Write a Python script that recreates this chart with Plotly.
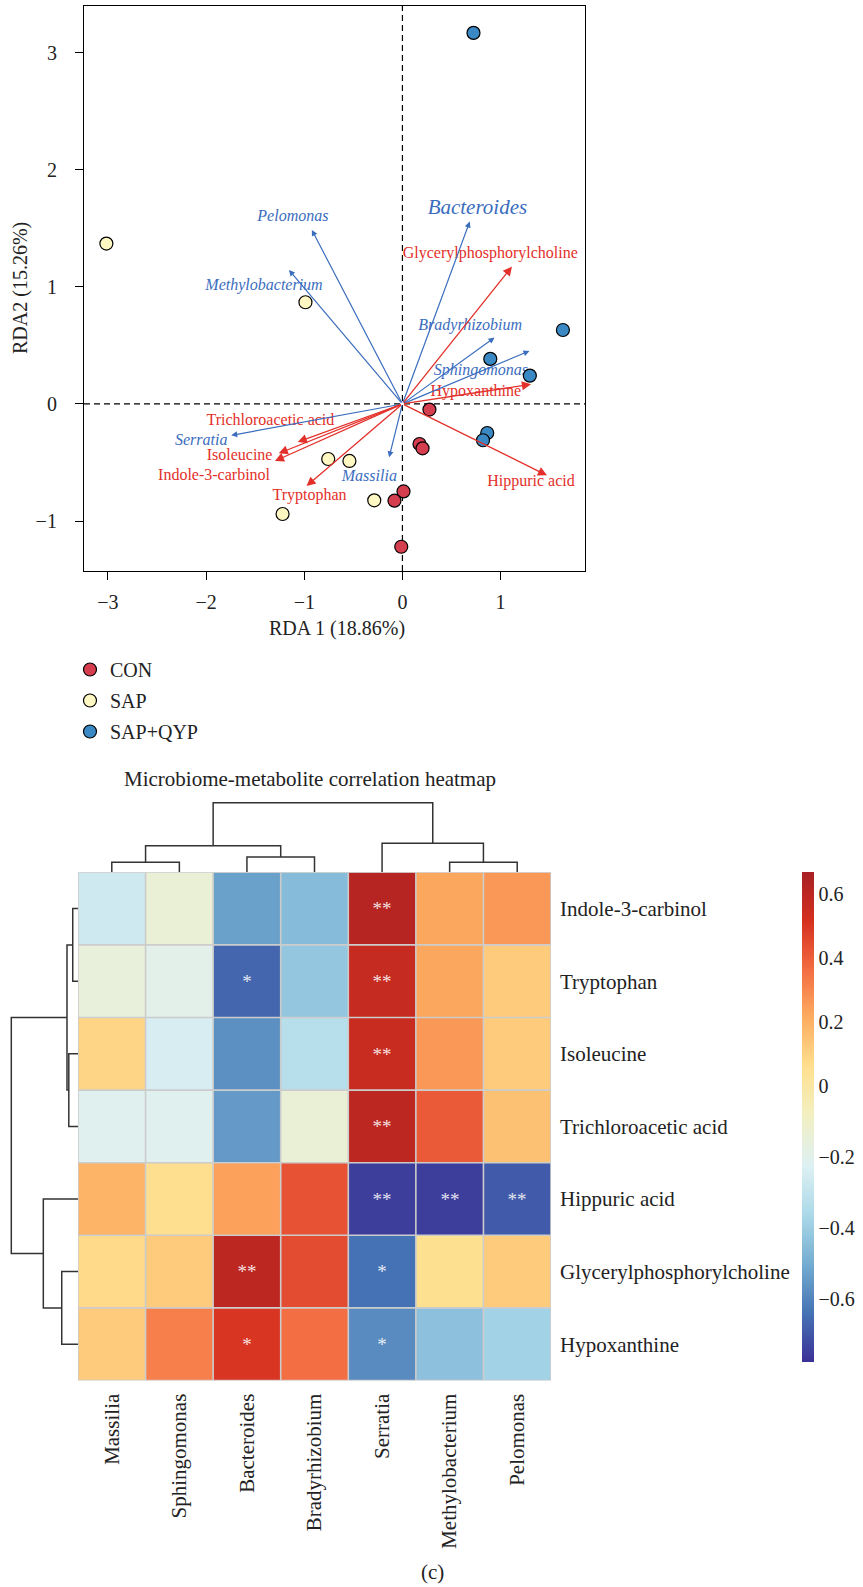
import plotly.graph_objects as go

# ---------------- data: RDA biplot ----------------
CON_x = [0.275, 0.174, 0.205, 0.011, -0.081, -0.012]
CON_y = [-0.048, -0.342, -0.379, -0.747, -0.826, -1.22]
SAP_x = [-3.016, -0.988, -0.756, -0.54, -0.287, -1.221]
SAP_y = [1.37, 0.869, -0.47, -0.487, -0.823, -0.94]
QYP_x = [0.724, 1.635, 0.895, 1.298, 0.864, 0.821]
QYP_y = [3.17, 0.632, 0.385, 0.242, -0.248, -0.31]

species = ["Pelomonas", "Methylobacterium", "Bacteroides", "Bradyrhizobium",
           "Sphingomonas", "Serratia", "Massilia"]
sp_x = [-0.923, -1.156, 0.686, 0.938, 1.294, -1.744, -0.136]
sp_y = [1.487, 1.145, 1.558, 0.567, 0.453, -0.268, -0.456]
sp_lab_x = [-1.116, -1.41, 0.764, 0.69, 0.80, -2.05, -0.337]
sp_lab_y = [1.598, 1.009, 1.664, 0.663, 0.283, -0.317, -0.62]

metabolites = ["Glycerylphosphorylcholine", "Hypoxanthine", "Hippuric acid",
               "Trichloroacetic acid", "Isoleucine", "Indole-3-carbinol", "Tryptophan"]
mb_x = [1.116, 1.31, 1.473, -1.066, -1.26, -1.299, -0.977]
mb_y = [1.174, 0.168, -0.61, -0.325, -0.422, -0.487, -0.701]
mb_lab_x = [0.895, 0.748, 1.31, -1.345, -1.659, -1.919, -0.946]
mb_lab_y = [1.282, 0.099, -0.669, -0.142, -0.442, -0.618, -0.782]

x_ticks = [-3, -2, -1, 0, 1]
y_ticks = [-1, 0, 1, 2, 3]

# ---------------- data: heatmap ----------------
hm_cols = ["Massilia", "Sphingomonas", "Bacteroides", "Bradyrhizobium",
           "Serratia", "Methylobacterium", "Pelomonas"]
hm_rows = ["Indole-3-carbinol", "Tryptophan", "Isoleucine", "Trichloroacetic acid",
           "Hippuric acid", "Glycerylphosphorylcholine", "Hypoxanthine"]
hm_vals = [
    [-0.266, -0.14, -0.53, -0.455, 0.62, 0.225, 0.26],
    [-0.155, -0.195, -0.665, -0.42, 0.565, 0.225, 0.12],
    [0.09, -0.24, -0.57, -0.33, 0.56, 0.26, 0.12],
    [-0.21, -0.21, -0.545, -0.14, 0.60, 0.41, 0.15],
    [0.19, 0.06, 0.24, 0.43, -0.75, -0.75, -0.69],
    [0.075, 0.12, 0.60, 0.445, -0.64, 0.055, 0.12],
    [0.12, 0.32, 0.50, 0.36, -0.58, -0.44, -0.385],
]
hm_sig = [
    ["", "", "", "", "**", "", ""],
    ["", "", "*", "", "**", "", ""],
    ["", "", "", "", "**", "", ""],
    ["", "", "", "", "**", "", ""],
    ["", "", "", "", "**", "**", "**"],
    ["", "", "**", "", "*", "", ""],
    ["", "", "*", "", "*", "", ""],
]
cb_min, cb_max = -0.776, 0.668
cb_ticks = [0.6, 0.4, 0.2, 0, -0.2, -0.4, -0.6]
cb_ticktext = ["0.6", "0.4", "0.2", "0", "\u22120.2", "\u22120.4", "\u22120.6"]

# dendrograms: (child_a, child_b, height); ids >= n are earlier merges
row_merges = [(0, 1, 0.079), (2, 3, 0.138), (7, 8, 0.165), (5, 6, 0.244),
              (4, 10, 0.52), (9, 11, 1.0)]
col_merges = [(0, 1, 0.144), (2, 3, 0.22), (5, 6, 0.144), (7, 8, 0.382),
              (4, 9, 0.417), (10, 11, 1.0)]

# ---------------- styling ----------------
W, H = 863, 1587
SERIF = "Liberation Serif, Times New Roman, serif"
BLUE = "#3B6DBE"
RED = "#E3302A"
C_CON, C_SAP, C_QYP = "#D53E4F", "#FFF8C2", "#3A88C4"
PALETTE = ["#3B3196", "#4573B4", "#74ADD1", "#ABD9E9", "#DDF0F3", "#F2F0C4",
           "#FEE090", "#FDAE61", "#F46D43", "#D5301F", "#A82024"]


def fx(p):
    return p / W


def fy(p):
    return 1 - p / H


zero_frac = 0.563


def tr(v):
    if v < 0:
        return zero_frac + v / (-cb_min) * zero_frac
    return zero_frac + v / cb_max * (1 - zero_frac)


fig = go.Figure()

# labels (drawn below points)
fig.add_trace(go.Scatter(
    x=sp_lab_x, y=sp_lab_y, text=species, mode="text", showlegend=False,
    textposition="middle center", hoverinfo="skip",
    textfont=dict(family=SERIF, color=BLUE,
                  size=[21 if s == "Bacteroides" else 16 for s in species],
                  style="italic"),
    xaxis="x", yaxis="y"))
fig.add_trace(go.Scatter(
    x=mb_lab_x, y=mb_lab_y, text=metabolites, mode="text", showlegend=False,
    textposition="middle center", hoverinfo="skip",
    textfont=dict(family=SERIF, color=RED, size=16),
    xaxis="x", yaxis="y"))

for name, xs, ys, col in [("CON", CON_x, CON_y, C_CON),
                          ("SAP", SAP_x, SAP_y, C_SAP),
                          ("SAP+QYP", QYP_x, QYP_y, C_QYP)]:
    fig.add_trace(go.Scatter(
        x=xs, y=ys, mode="markers", name=name, legendgroup=name,
        marker=dict(size=13, color=col, line=dict(color="black", width=1.2)),
        xaxis="x", yaxis="y"))

annotations = []
for tx, ty in zip(sp_x, sp_y):
    annotations.append(dict(x=tx, y=ty, ax=0, ay=0, xref="x", yref="y",
                            axref="x", ayref="y", text="", showarrow=True,
                            arrowhead=2, arrowsize=1.0, arrowwidth=1.2,
                            arrowcolor=BLUE, standoff=0, startstandoff=0))
for tx, ty in zip(mb_x, mb_y):
    annotations.append(dict(x=tx, y=ty, ax=0, ay=0, xref="x", yref="y",
                            axref="x", ayref="y", text="", showarrow=True,
                            arrowhead=2, arrowsize=1.4, arrowwidth=1.3,
                            arrowcolor=RED, standoff=0, startstandoff=0))

# heatmap
z_t = [[tr(v) for v in row] for row in hm_vals]
cs = [[i / 10, c] for i, c in enumerate(PALETTE)]
fig.add_trace(go.Heatmap(
    z=z_t, x=list(range(len(hm_cols))), y=list(range(len(hm_rows))),
    text=hm_sig, texttemplate="%{text}",
    textfont=dict(family=SERIF, size=19, color="rgba(255,255,255,0.88)"),
    customdata=hm_vals, hovertemplate="%{customdata:.2f}<extra></extra>",
    colorscale=cs, zmin=0, zmax=1, xaxis="x2", yaxis="y2",
    colorbar=dict(x=fx(802), xanchor="left", xpad=0,
                  y=fy(1117), yanchor="middle", ypad=0,
                  len=490, lenmode="pixels", thickness=12, thicknessmode="pixels",
                  outlinewidth=0, ticks="", tickvals=[tr(v) for v in cb_ticks],
                  ticktext=cb_ticktext,
                  tickfont=dict(family=SERIF, size=20, color="#222"))))


def dendro_segments(merges, n):
    pos = {i: float(i) for i in range(n)}
    hgt = {i: 0.0 for i in range(n)}
    xs, ys = [], []
    for k, (a, b, h) in enumerate(merges):
        pa, pb = pos[a], pos[b]
        xs += [pa, pa, pb, pb, None]
        ys += [hgt[a], h, h, hgt[b], None]
        pos[n + k] = (pa + pb) / 2
        hgt[n + k] = h
    return xs, ys


cx, cy = dendro_segments(col_merges, len(hm_cols))
fig.add_trace(go.Scatter(x=cx, y=cy, mode="lines", showlegend=False,
                         line=dict(color="#333333", width=1.5), hoverinfo="skip",
                         xaxis="x3", yaxis="y3"))
ry, rx = dendro_segments(row_merges, len(hm_rows))
fig.add_trace(go.Scatter(x=rx, y=ry, mode="lines", showlegend=False,
                         line=dict(color="#333333", width=1.5), hoverinfo="skip",
                         xaxis="x4", yaxis="y4"))

shapes = [
    dict(type="line", xref="x", yref="y domain", x0=0, x1=0, y0=0, y1=1,
         line=dict(color="black", width=1.2, dash="6px,4px"), layer="below"),
    dict(type="line", xref="x domain", yref="y", x0=0, x1=1, y0=0, y1=0,
         line=dict(color="black", width=1.2, dash="6px,4px"), layer="below"),
]
nr, nc = len(hm_rows), len(hm_cols)
for k in range(nc + 1):
    shapes.append(dict(type="line", xref="x2", yref="y2", x0=k - 0.5, x1=k - 0.5,
                       y0=-0.5, y1=nr - 0.5, line=dict(color="#CCCCCC", width=1.6)))
for k in range(nr + 1):
    shapes.append(dict(type="line", xref="x2", yref="y2", x0=-0.5, x1=nc - 0.5,
                       y0=k - 0.5, y1=k - 0.5, line=dict(color="#CCCCCC", width=1.6)))

annotations += [
    dict(text="RDA 1 (18.86%)", x=fx(337), y=fy(628), xref="paper", yref="paper",
         xanchor="center", yanchor="middle",
         showarrow=False, font=dict(family=SERIF, size=20, color="#222")),
    dict(text="RDA2 (15.26%)", x=fx(21), y=fy(288), xref="paper", yref="paper",
         xanchor="center", yanchor="middle",
         showarrow=False, textangle=-90, font=dict(family=SERIF, size=20, color="#222")),
    dict(text="Microbiome-metabolite correlation heatmap", x=fx(310), y=fy(779),
         xref="paper", yref="paper", showarrow=False,
         xanchor="center", yanchor="middle",
         font=dict(family=SERIF, size=21, color="#222")),
    dict(text="(c)", x=fx(432), y=fy(1572), xref="paper", yref="paper",
         xanchor="center", yanchor="middle",
         showarrow=False, font=dict(family=SERIF, size=21, color="#222")),
]

axis_font = dict(family=SERIF, size=20, color="#222")
hm_top, hm_bot = 872.3, 1380.5
hm_left, hm_right = 78, 551

fig.update_layout(
    width=W, height=H, margin=dict(l=0, r=0, t=0, b=0),
    paper_bgcolor="white", plot_bgcolor="white",
    showlegend=True,
    legend=dict(x=fx(70), y=fy(650), xanchor="left", yanchor="top",
                font=dict(family=SERIF, size=20, color="#222"),
                itemwidth=30, tracegroupgap=2, bgcolor="rgba(0,0,0,0)"),
    xaxis=dict(domain=[fx(84), fx(585)], range=[-3.244, 1.86], tickvals=x_ticks,
               ticks="outside", ticklen=8, tickwidth=1.2, tickcolor="black",
               showline=True, mirror=True, linecolor="black", linewidth=1.2,
               showgrid=False, zeroline=False, tickfont=axis_font,
               ticklabelstandoff=5, anchor="y"),
    yaxis=dict(domain=[fy(571), fy(5.5)], range=[-1.427, 3.404], tickvals=y_ticks,
               ticks="outside", ticklen=8, tickwidth=1.2, tickcolor="black",
               showline=True, mirror=True, linecolor="black", linewidth=1.2,
               showgrid=False, zeroline=False, tickfont=axis_font,
               ticklabelstandoff=14, anchor="x"),
    xaxis2=dict(domain=[fx(hm_left), fx(hm_right)], range=[-0.5, nc - 0.5],
                tickvals=list(range(nc)), ticktext=hm_cols, tickangle=-90,
                ticks="", showgrid=False, zeroline=False, showline=False,
                tickfont=dict(family=SERIF, size=21, color="#222"),
                ticklabelstandoff=8, anchor="y2"),
    yaxis2=dict(domain=[fy(hm_bot), fy(hm_top)], range=[nr - 0.5, -0.5],
                tickvals=list(range(nr)), ticktext=hm_rows, side="right",
                ticks="", showgrid=False, zeroline=False, showline=False,
                tickfont=dict(family=SERIF, size=21, color="#222"),
                ticklabelstandoff=8, anchor="x2"),
    xaxis3=dict(domain=[fx(hm_left), fx(hm_right)], range=[-0.5, nc - 0.5],
                visible=False, anchor="y3"),
    yaxis3=dict(domain=[fy(hm_top), fy(hm_top - 69.6 * 1.03)], range=[0, 1.03],
                visible=False, anchor="x3"),
    xaxis4=dict(domain=[fx(hm_left - 66.7 * 1.03), fx(hm_left)], range=[1.03, 0],
                visible=False, anchor="y4"),
    yaxis4=dict(domain=[fy(hm_bot), fy(hm_top)], range=[nr - 0.5, -0.5],
                visible=False, anchor="x4"),
    shapes=shapes, annotations=annotations,
)

fig.write_html("out.html")
